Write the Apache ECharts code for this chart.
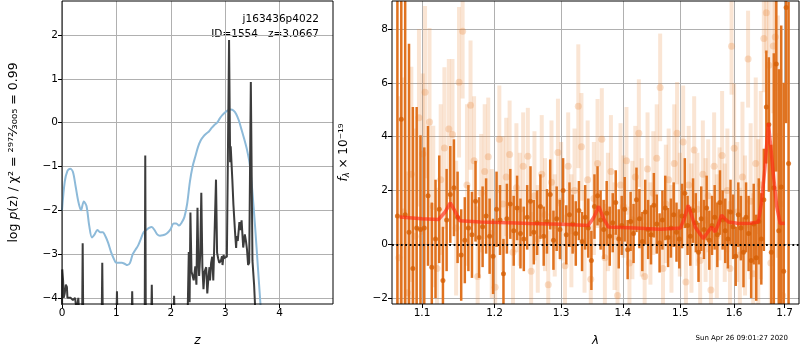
<!DOCTYPE html>
<html>
<head>
<meta charset="utf-8">
<script src="https://cdn.jsdelivr.net/npm/echarts@6/dist/echarts.min.js"></script>
<style>
	html, body { margin: 0; padding: 0; background: #fff; }
	#chart { width: 800px; height: 350px; }
</style>
</head>
<body>
<div id="chart"></div>
<script>
// ---- left panel: redshift p(z) ----
const zTicks = [0, 1, 2, 3, 4]
const logpTicks = [-4, -3, -2, -1, 0, 1, 2]

const priorZ = [0, 0.05, 0.1, 0.15, 0.2, 0.25, 0.3, 0.35, 0.4, 0.45, 0.5, 0.55, 0.6, 0.65, 0.7, 0.75, 0.8, 0.85, 0.9, 0.95,
	1.0, 1.05, 1.1, 1.15, 1.2, 1.25, 1.3, 1.35, 1.4, 1.45, 1.5, 1.55, 1.6, 1.65, 1.7, 1.75, 1.8, 1.85, 1.9, 1.95,
	2.0, 2.05, 2.1, 2.15, 2.2, 2.25, 2.3, 2.35, 2.4, 2.45, 2.5, 2.55, 2.6, 2.65, 2.7, 2.75, 2.8, 2.85, 2.9, 2.95,
	3.0, 3.05, 3.1, 3.15, 3.2, 3.25, 3.3, 3.35, 3.4, 3.45, 3.5, 3.55, 3.6, 3.65]
const priorLogp = [-2.0, -1.35, -1.1, -1.05, -1.12, -1.45, -1.8, -2.0, -1.8, -1.9, -2.35, -2.62, -2.55, -2.45, -2.5, -2.5, -2.6, -2.75, -2.95, -3.1,
	-3.2, -3.2, -3.2, -3.22, -3.25, -3.2, -3.0, -2.9, -2.8, -2.65, -2.5, -2.45, -2.4, -2.38, -2.45, -2.55, -2.58, -2.57, -2.55, -2.5,
	-2.42, -2.3, -2.3, -2.35, -2.28, -2.15, -1.85, -1.35, -1.0, -0.77, -0.55, -0.4, -0.31, -0.25, -0.2, -0.12, -0.05, 0.0, 0.1, 0.18,
	0.24, 0.28, 0.3, 0.28, 0.2, 0.05, -0.16, -0.38, -0.62, -0.95, -1.6, -2.4, -3.3, -4.2]

const pdfZ = [0.0, 0.005, 0.02, 0.03, 0.05, 0.07, 0.09, 0.1, 0.13, 0.16, 0.2, 0.24, 0.27, 0.3, 0.32, 0.37, 0.38, 0.39,
	0.73, 0.74, 0.75, 1.0, 1.01, 1.02, 1.28, 1.29, 1.3, 1.52, 1.53, 1.54, 1.64, 1.65, 1.66, 2.05, 2.06, 2.07,
	2.31, 2.33, 2.345, 2.36, 2.38, 2.4, 2.42, 2.45, 2.47, 2.49, 2.505, 2.52, 2.54, 2.56, 2.58, 2.6, 2.62, 2.65, 2.67,
	2.69, 2.71, 2.72, 2.74, 2.76, 2.78, 2.8, 2.83, 2.85, 2.87, 2.89, 2.92, 2.94, 2.95, 2.97, 2.98, 3.0, 3.03,
	3.07, 3.09, 3.1, 3.13, 3.15, 3.18, 3.2, 3.21, 3.23, 3.26, 3.28, 3.3, 3.33, 3.36, 3.38, 3.4, 3.42, 3.44, 3.47, 3.5, 3.53, 3.56]
const pdfLogp = [-4.5, -3.35, -3.6, -4.0, -3.9, -3.7, -3.75, -4.0, -4.02, -4.0, -4.05, -4.0, -4.3, -4.0, -4.5, -4.5, -2.75, -4.5,
	-4.5, -3.2, -4.5, -4.5, -3.85, -4.5, -4.5, -3.85, -4.5, -4.5, -0.75, -4.5, -4.5, -3.7, -4.5, -4.5, -3.95, -4.5,
	-4.3, -2.95, -4.1, -2.05, -3.4, -3.36, -3.6, -3.28, -3.7, -1.94, -3.15, -3.5, -3.0, -1.6, -3.3, -3.8, -3.4, -3.3, -3.9,
	-3.55, -3.3, -3.6, -3.2, -3.06, -3.6, -2.7, -1.3, -2.97, -3.1, -3.2, -3.15, -3.05, -3.25, -3.02, -3.09, -3.1, -3.06,
	1.89, -0.9, -0.54, -1.3, -1.87, -2.5, -2.86, -2.59, -2.7, -2.27, -2.45, -2.23, -2.85, -2.55, -2.7, -2.9, -3.25, -3.2, 0.93, -3.15, -3.7, -4.5]

// ---- right panel: spectrum ----
const lamTicks = [1.1, 1.2, 1.3, 1.4, 1.5, 1.6, 1.7]
const fluxTicks = [-2, 0, 2, 4, 6, 8]

const darkLam = [1.068, 1.073, 1.078, 1.083, 1.088, 1.093, 1.098, 1.103, 1.108, 1.113,
	1.118, 1.123, 1.128, 1.133, 1.138, 1.143, 1.148, 1.153, 1.158, 1.163,
	1.168, 1.173, 1.178, 1.183, 1.188, 1.193, 1.198, 1.203, 1.208, 1.213,
	1.218, 1.223, 1.228, 1.233, 1.238, 1.243, 1.248, 1.253, 1.258, 1.263,
	1.268, 1.273, 1.278, 1.283, 1.288, 1.293, 1.298, 1.303, 1.308, 1.313,
	1.318, 1.323, 1.328, 1.333, 1.338, 1.343, 1.348, 1.353, 1.358, 1.363,
	1.368, 1.373, 1.378, 1.383, 1.388, 1.393, 1.398, 1.403, 1.408, 1.413,
	1.418, 1.423, 1.428, 1.433, 1.438, 1.443, 1.448, 1.453, 1.458, 1.463,
	1.468, 1.473, 1.478, 1.483, 1.488, 1.493, 1.498, 1.503, 1.508, 1.513,
	1.518, 1.523, 1.528, 1.533, 1.538, 1.543, 1.548, 1.553, 1.558, 1.563,
	1.568, 1.573, 1.578, 1.583, 1.588, 1.593, 1.598, 1.603, 1.608, 1.613,
	1.618, 1.623, 1.628, 1.633, 1.638, 1.643, 1.648, 1.653, 1.658, 1.663,
	1.668, 1.673, 1.678, 1.683, 1.688, 1.693, 1.698, 1.703, 1.708]
const darkFlux = [1.05, 4.65, 1.1, 0.45, -0.9, 0.6, 0.55, 0.6, 1.8, -0.85,
	0.2, 1.3, -1.35, 0.9, 1.85, 2.1, 1.0, -0.4, 0.15, 0.6,
	0.35, 1.6, 0.25, 0.65, 1.05, 0.3, -0.45, 1.3, 0.9, -1.1,
	0.95, 1.5, 0.5, 1.35, 0.4, 0.2, 1.0, 1.6, 0.45, 0.8,
	1.4, 0.3, 0.85, 1.85, 0.15, 0.95, 0.55, 2.0, 0.35, 1.1,
	0.75, 0.4, 1.25, 0.1, 1.0, 0.6, -0.6, 1.4, 1.8, 0.9,
	0.55, 1.15, 0.3, 0.8, 1.55, 0.2, 0.7, 1.3, -0.2, 0.85,
	0.4, 1.65, 0.95, 0.1, 1.2, 0.55, 0.35, 1.45, 0.75, 0.05,
	0.9, 1.35, 0.25, 0.6, 1.1, 0.45, 0.2, 1.05, 1.9, 0.7,
	0.3, 1.25, 0.8, -0.3, 0.95, 0.55, 1.35, 0.15, 0.7, 1.0,
	0.35, 1.55, 0.9, 0.5, 0.2, 1.2, 0.65, -0.45, 1.1, 0.6,
	-0.3, 1.0, 0.4, -0.6, 0.75, -0.5, 0.85, 0.2, 1.65, 5.1,
	4.45, -0.3, 2.1, 6.7, 0.5, 2.13, -1.0, 8.8, 3.0]
const darkErr = [12, 10, 8, 7, 6, 4.5, 3.5, 3.0, 2.6, 2.4,
	2.2, 2.0, 2.0, 1.9, 1.8, 1.8, 1.7, 1.7, 1.6, 1.6,
	1.6, 1.5, 1.5, 1.5, 1.4, 1.4, 1.4, 1.4, 1.3, 1.3,
	1.3, 1.3, 1.3, 1.2, 1.3, 1.2, 1.2, 1.3, 1.2, 1.2,
	1.2, 1.1, 1.2, 1.3, 1.1, 1.2, 1.1, 1.2, 1.1, 1.2,
	1.1, 1.2, 1.1, 1.1, 1.2, 1.1, 1.1, 1.2, 1.1, 1.1,
	1.1, 1.2, 1.1, 1.1, 1.2, 1.1, 1.1, 1.2, 1.1, 1.1,
	1.1, 1.2, 1.1, 1.1, 1.2, 1.1, 1.1, 1.2, 1.1, 1.1,
	1.1, 1.2, 1.1, 1.1, 1.2, 1.1, 1.1, 1.2, 1.3, 1.1,
	1.1, 1.2, 1.1, 1.1, 1.2, 1.1, 1.2, 1.1, 1.1, 1.2,
	1.2, 1.2, 1.1, 1.2, 1.1, 1.2, 1.2, 1.1, 1.2, 1.2,
	1.3, 1.3, 1.4, 1.4, 1.5, 1.6, 1.6, 1.7, 1.9, 2.1,
	2.5, 4, 5, 4, 6, 6, 7, 4.3, 6]

const lightLam = [1.070, 1.076, 1.081, 1.086, 1.091, 1.096, 1.101, 1.104, 1.110, 1.115,
	1.120, 1.125, 1.130, 1.136, 1.141, 1.146, 1.150, 1.155, 1.161, 1.166,
	1.171, 1.176, 1.181, 1.186, 1.191, 1.196, 1.201, 1.207, 1.212, 1.217,
	1.222, 1.227, 1.232, 1.237, 1.242, 1.249, 1.254, 1.259, 1.264, 1.270,
	1.275, 1.280, 1.285, 1.290, 1.295, 1.300, 1.306, 1.311, 1.316, 1.321,
	1.327, 1.332, 1.337, 1.342, 1.347, 1.352, 1.358, 1.365, 1.370, 1.375,
	1.380, 1.386, 1.391, 1.396, 1.401, 1.406, 1.411, 1.416, 1.421, 1.427,
	1.432, 1.437, 1.442, 1.447, 1.452, 1.458, 1.464, 1.469, 1.474, 1.479,
	1.484, 1.489, 1.494, 1.499, 1.505, 1.510, 1.515, 1.520, 1.525, 1.531,
	1.536, 1.541, 1.546, 1.551, 1.556, 1.562, 1.567, 1.572, 1.577, 1.582,
	1.587, 1.592, 1.595, 1.600, 1.606, 1.611, 1.616, 1.621, 1.627, 1.632,
	1.637, 1.642, 1.647, 1.652, 1.658, 1.663, 1.668, 1.672, 1.677, 1.681,
	1.686, 1.691, 1.696]
const lightFlux = [-0.5, 1.2, -1.8, 2.6, 0.3, 4.7, 3.35, 5.65, 4.54, 1.4,
	-0.9, 2.4, 3.58, 4.28, 4.08, 0.6, 6.02, 7.92, 2.2, 5.17,
	3.1, -1.2, 1.9, 2.7, 3.25, 0.4, -1.6, 3.9, 1.5, 2.5,
	3.34, -0.3, 2.1, 1.3, 2.9, 3.27, -1.0, 1.8, 0.2, 2.6,
	1.1, -1.5, 2.3, 0.7, 3.41, 1.6, -0.8, 2.9, 0.5, 2.0,
	5.13, 3.62, 0.1, 2.4, -1.3, 1.7, 3.0, 3.9, -0.5, 1.2,
	2.7, 0.3, -1.9, 2.2, 1.4, 3.1, -0.7, 0.9, 2.5, 4.13,
	1.0, -1.2, 2.8, 0.4, 1.9, 3.2, 5.83, -0.9, 1.5, 2.4,
	0.2, 3.0, 4.13, 1.1, 3.8, -1.4, 2.2, 0.6, 3.5, 1.3,
	-0.6, 2.6, 0.9, 1.8, -1.7, 2.9, 0.3, 1.5, 3.3, 0.8,
	2.0, -0.9, 7.36, 3.57, 1.2, -0.4, 2.5, 0.7, 6.88, 1.6,
	-1.1, 3.0, 0.5, 2.2, 7.65, 8.6, 6.65, -0.7, 7.37, 7.7,
	4.0, 1.5, -1.9]
const lightErr = [6, 5, 4.5, 4, 4, 3.3, 3, 3.2, 3.5, 3.0,
	3.0, 2.8, 3.0, 2.6, 2.8, 2.5, 2.8, 2.5, 3.0, 2.4,
	2.4, 2.6, 2.2, 2.5, 2.2, 2.4, 2.3, 2.0, 2.5, 2.2,
	2.0, 2.3, 2.4, 2.1, 2.0, 1.8, 2.2, 2.4, 2.0, 2.2,
	2.1, 2.0, 2.3, 1.9, 2.0, 2.2, 1.9, 2.0, 2.1, 2.3,
	2.3, 2.0, 1.9, 2.2, 2.0, 2.1, 2.4, 1.9, 2.0, 2.2,
	2.1, 2.0, 2.2, 2.3, 1.9, 2.0, 2.1, 2.2, 1.9, 2.0,
	2.2, 2.0, 2.1, 1.9, 2.3, 2.0, 2.0, 2.1, 2.2, 1.9,
	2.0, 2.2, 1.9, 2.3, 2.1, 2.0, 2.2, 2.4, 2.0, 2.1,
	2.2, 2.0, 2.3, 2.1, 2.2, 2.0, 2.3, 2.1, 2.4, 2.2,
	2.3, 2.5, 1.8, 2.4, 2.6, 2.5, 2.8, 2.6, 1.8, 2.9,
	3.0, 3.2, 3.4, 3.5, 2.0, 1.5, 2.5, 4.0, 2.5, 2.0,
	4.5, 5, 5]

const modelLam = [1.071, 1.10, 1.122, 1.131, 1.138, 1.145, 1.151, 1.18, 1.22, 1.252, 1.30, 1.343, 1.352, 1.360, 1.368, 1.376,
	1.42, 1.464, 1.50, 1.507, 1.514, 1.52, 1.527, 1.535, 1.542, 1.55, 1.557, 1.564, 1.571, 1.576, 1.582, 1.589,
	1.60, 1.608, 1.631, 1.647, 1.653, 1.660, 1.667, 1.672, 1.677, 1.684, 1.691, 1.700]
const modelFlux = [1.01, 0.95, 0.92, 1.2, 1.54, 1.2, 0.87, 0.83, 0.8, 0.77, 0.74, 0.7, 1.0, 1.41, 0.95, 0.64,
	0.6, 0.56, 0.6, 0.95, 1.45, 1.1, 0.64, 0.4, 0.21, 0.45, 0.64, 0.46, 0.8, 1.08, 0.95, 0.83,
	0.8, 0.77, 0.78, 0.83, 1.5, 2.8, 4.5, 3.6, 2.6, 1.4, 0.77, 0.78]

const FONT = "DejaVu Sans"
const zip = (...cols) => cols[0].map((_, i) => cols.map((c) => c[i]))

function errorBars(width, color) {
	return function (params, api) {
		const lam = api.value(0)
		const f = api.value(1)
		const e = api.value(2)
		const top = api.coord([lam, f + e])
		const bot = api.coord([lam, f - e])
		return {
			type: "line",
			shape: { x1: top[0], y1: top[1], x2: bot[0], y2: bot[1] },
			style: { stroke: color, lineWidth: width },
		}
	}
}

function baseAxis(gridIndex, ticks, min, max, type) {
	return {
		gridIndex,
		type: type || "value",
		min,
		max,
		axisLine: { show: false, onZero: false },
		axisTick: { show: true, length: 4, lineStyle: { color: "#000" }, customValues: ticks },
		axisLabel: { color: "#000", fontFamily: FONT, fontSize: 10.5, margin: 4, customValues: ticks, formatter: (v) => String(+v.toFixed(2)).replace("-", "\u2212") },
		splitLine: { show: true, lineStyle: { color: "#b0b0b0", width: 1 } },
	}
}

const chart = echarts.init(document.getElementById("chart"), null, { renderer: "canvas" })

const option = {
	animation: false,
	backgroundColor: "#fff",
	grid: [
		{ left: 62, top: 1, width: 271, height: 303, outerBoundsMode: "none", show: true, borderColor: "#000", borderWidth: 1, backgroundColor: "transparent", z: 10 },
		{ left: 392, top: 1, width: 407, height: 303, outerBoundsMode: "none", show: true, borderColor: "#000", borderWidth: 1, backgroundColor: "transparent", z: 10 },
	],
	xAxis: [
		Object.assign(baseAxis(0, zTicks, 0, 4.98), {
			name: "z",
			nameLocation: "middle",
			nameGap: 31,
			nameTextStyle: { color: "#000", fontFamily: FONT, fontSize: 12, fontStyle: "italic" },
		}),
		Object.assign(baseAxis(1, lamTicks, 1.0611, 1.7295, "log"), {
			logBase: 10,
			name: "λ",
			nameLocation: "middle",
			nameGap: 31,
			nameTextStyle: { color: "#000", fontFamily: FONT, fontSize: 12, fontStyle: "italic" },
		}),
	],
	yAxis: [
		Object.assign(baseAxis(0, logpTicks, -4.14, 2.78), {
			name: "log {i|p}(z) / χ² = {f|²⁹⁷²⁄₃₀₀₅} = 0.99",
			nameLocation: "middle",
			nameGap: 42,
			nameTextStyle: {
				color: "#000", fontFamily: FONT, fontSize: 12.5,
				rich: {
					i: { fontFamily: FONT, fontSize: 12.5, fontStyle: "italic", color: "#000" },
					f: { fontFamily: FONT, fontSize: 13, color: "#000" },
				},
			},
		}),
		Object.assign(baseAxis(1, fluxTicks, -2.22, 9.04), {
			name: "{i|f}{s|λ} × 10⁻¹⁹",
			nameLocation: "middle",
			nameGap: 41,
			nameTextStyle: {
				color: "#000", fontFamily: FONT, fontSize: 12,
				rich: {
					i: { fontFamily: FONT, fontSize: 12, fontStyle: "italic", color: "#000" },
					s: { fontFamily: FONT, fontSize: 8.5, fontStyle: "italic", color: "#000", padding: [5, 0, 0, 0] },
				},
			},
		}),
	],
	graphic: [
		{ type: "text", right: 800 - 319, top: 14, style: { text: "j163436p4022", font: `10.5px ${FONT}`, fill: "#000", textAlign: "right" } },
		{ type: "text", right: 800 - 319, top: 29, style: { text: "ID=1554   z=3.0667", font: `10.5px ${FONT}`, fill: "#000", textAlign: "right" } },
		{ type: "text", right: 12, top: 335, style: { text: "Sun Apr 26 09:01:27 2020", font: `7px ${FONT}`, fill: "#000", textAlign: "right" } },
	],
	series: [
		{
			type: "line",
			xAxisIndex: 0,
			yAxisIndex: 0,
			data: zip(priorZ, priorLogp),
			smooth: 0.3,
			showSymbol: false,
			lineStyle: { color: "#8dbad9", width: 2 },
			z: 2,
		},
		{
			type: "line",
			xAxisIndex: 0,
			yAxisIndex: 0,
			data: zip(pdfZ, pdfLogp),
			showSymbol: false,
			lineStyle: { color: "#3c3c3c", width: 2 },
			z: 3,
		},
		{
			type: "custom",
			xAxisIndex: 1,
			yAxisIndex: 1,
			data: zip(lightLam, lightFlux, lightErr),
			renderItem: errorBars(4, "rgba(232,135,60,0.22)"),
			clip: true,
			z: 2,
		},
		{
			type: "scatter",
			xAxisIndex: 1,
			yAxisIndex: 1,
			data: zip(lightLam, lightFlux),
			symbolSize: 7,
			itemStyle: { color: "rgba(232,135,60,0.35)" },
			z: 3,
		},
		{
			type: "custom",
			xAxisIndex: 1,
			yAxisIndex: 1,
			data: zip(darkLam, darkFlux, darkErr),
			renderItem: errorBars(2.5, "#e0721f"),
			clip: true,
			z: 4,
		},
		{
			type: "scatter",
			xAxisIndex: 1,
			yAxisIndex: 1,
			data: zip(darkLam, darkFlux),
			symbolSize: 5,
			itemStyle: { color: "#d65f05" },
			z: 5,
		},
		{
			type: "line",
			xAxisIndex: 1,
			yAxisIndex: 1,
			data: zip(modelLam, modelFlux),
			showSymbol: false,
			lineStyle: { color: "#ff2a14", width: 3.5, opacity: 0.65 },
			z: 6,
			markLine: {
				silent: true,
				symbol: "none",
				label: { show: false },
				lineStyle: { color: "#000", width: 1.8, type: [1.8, 2.6], opacity: 1 },
				data: [{ yAxis: 0 }],
			},
		},
	],
}

chart.setOption(option)
</script>
</body>
</html>
